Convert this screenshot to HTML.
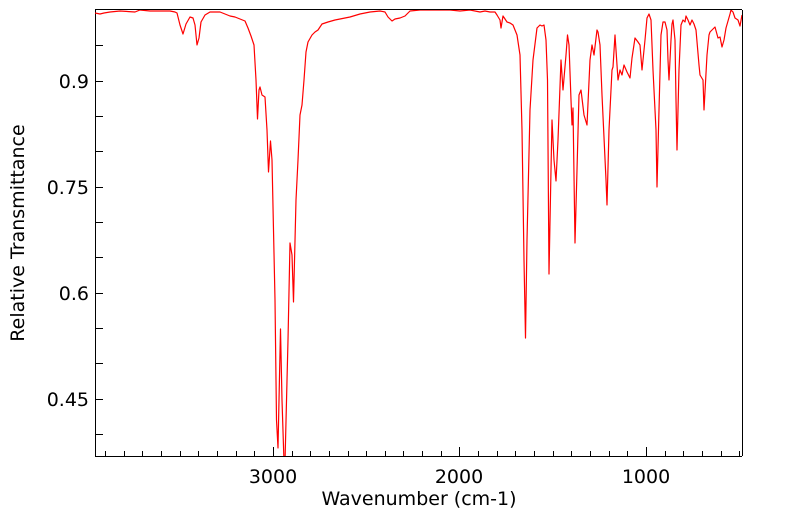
<!DOCTYPE html>
<html><head><meta charset="utf-8"><style>
html,body{margin:0;padding:0;background:#fff;}
svg{display:block;font-family:"DejaVu Sans","Liberation Sans",sans-serif;}
</style></head><body>
<svg width="799" height="516" viewBox="0 0 799 516" xmlns="http://www.w3.org/2000/svg">
<rect x="0" y="0" width="799" height="516" fill="#fff"/>
<g stroke="#000" stroke-width="1">
<line x1="95.5" y1="10" x2="95.5" y2="456"/>
<line x1="95" y1="456.5" x2="742" y2="456.5"/>
<line x1="95" y1="9.5" x2="742" y2="9.5"/>
<line x1="742.5" y1="10" x2="742.5" y2="456"/>
</g>
<g stroke="#000" stroke-width="1">
<line x1="95" y1="45.5" x2="103" y2="45.5"/>
<line x1="95" y1="81.5" x2="103" y2="81.5"/>
<line x1="95" y1="116.5" x2="103" y2="116.5"/>
<line x1="95" y1="151.5" x2="103" y2="151.5"/>
<line x1="95" y1="187.5" x2="103" y2="187.5"/>
<line x1="95" y1="222.5" x2="103" y2="222.5"/>
<line x1="95" y1="257.5" x2="103" y2="257.5"/>
<line x1="95" y1="293.5" x2="103" y2="293.5"/>
<line x1="95" y1="328.5" x2="103" y2="328.5"/>
<line x1="95" y1="363.5" x2="103" y2="363.5"/>
<line x1="95" y1="399.5" x2="103" y2="399.5"/>
<line x1="95" y1="434.5" x2="103" y2="434.5"/>
</g>
<g stroke="#000" stroke-width="1" id="xt"></g>
<g font-size="19" fill="#000" text-anchor="end">
<text x="89" y="88">0.9</text>
<text x="89" y="194">0.75</text>
<text x="89" y="300">0.6</text>
<text x="89" y="406">0.45</text>
</g>
<g font-size="19" fill="#000" text-anchor="middle">
<text x="273" y="483">3000</text>
<text x="459" y="483">2000</text>
<text x="646" y="483">1000</text>
<text x="419" y="505">Wavenumber (cm-1)</text>
<text transform="translate(24,233) rotate(-90)">Relative Transmittance</text>
</g>
<svg x="95" y="10" width="647" height="446" viewBox="95 10 647 446" overflow="hidden">
<polyline fill="none" stroke="#ff0000" stroke-width="1.2" stroke-linejoin="round" points="
95,13 100,14 104,13 110,12 120,11 135,12 140,10 150,11 160,11 170,11 175,12 177,13 180,25 183,34 186,24 190,17 193,18 195,25 197,45 199,38 201,22 205,15 210,12 220,12 225,14 230,16 235,17 240,19
245,21 248,28 251,36 254,45 256,80 257.5,119 259,90 260,87 262,95 265,97 267,130 268.5,172 270.5,141 272,160 275,300 276.5,420 278,448 280.5,329 282,400 284,462 285,462 288,340 290,243 292,255 293.5,302 296,200 298,160 300,115 302,105 304,80 306,52 308,42 312,35 315,32 318,30 322,24 328,22 335,20 340,19
350,17 360,14 370,12 380,11 385,12 388,17 392,21 395,19 400,18 405,16 410,11 420,10 440,10 450,10 460,11 470,10 480,12 485,11 490,12
495,12 497,15 500,20 501,28 503,16 505,19 507,22 510,23 513,25 517,35 520,55 522,130 524,260 525.5,338 527,240 530,110 533,60 537,28 540,25 542,26 544,25 546,40 547.5,80 549,274 551,170 552,120 554,160 556,181 558,140 561,60 563,90 566,55 567.5,35 569,45 571,100 572,125 573,108 575,243 577,170 579,95 581,90 584,115 587,125 590,60 592,45 594,55 597,30 598,32 600,45 602,95 606,180 607,205 609,130 612,70 613,67 615,35 618,80 620,70 622,75 624,65 627,72 630,78 632,58 635,38 638,42 640,45 642,70 645,40 647,18 649,14 651,20 653,70 656,130 657,187 659,110 661,35 663,22 665,22 667,30 668,60 669,80 671,40 672,24 673,20 675,40 676,100 677,150 679,70 681,25 683,20 685,22 686,16 688,20 690,25 692,20 694,24 696,30 699,65 700,75 703,80 704,110 707,55 709,35 710,32 712,30 715,27 718,38 720,37 722,47 724,40 726,28 730,14 731,10 733,12 735,18 738,20 740,26 742,15"/>
</svg>
</svg>
<script>
(function(){var g=document.getElementById('xt');var s='';
for(var w=3900;w>=500;w-=100){var x=95+(3954-w)*0.1865;var L=(w%1000==0)?9:5;
s+='<line x1="'+(Math.round(x)+0.5)+'" y1="'+(456-L)+'" x2="'+(Math.round(x)+0.5)+'" y2="456"/>';}
g.innerHTML=s;})();
</script>
</body></html>
